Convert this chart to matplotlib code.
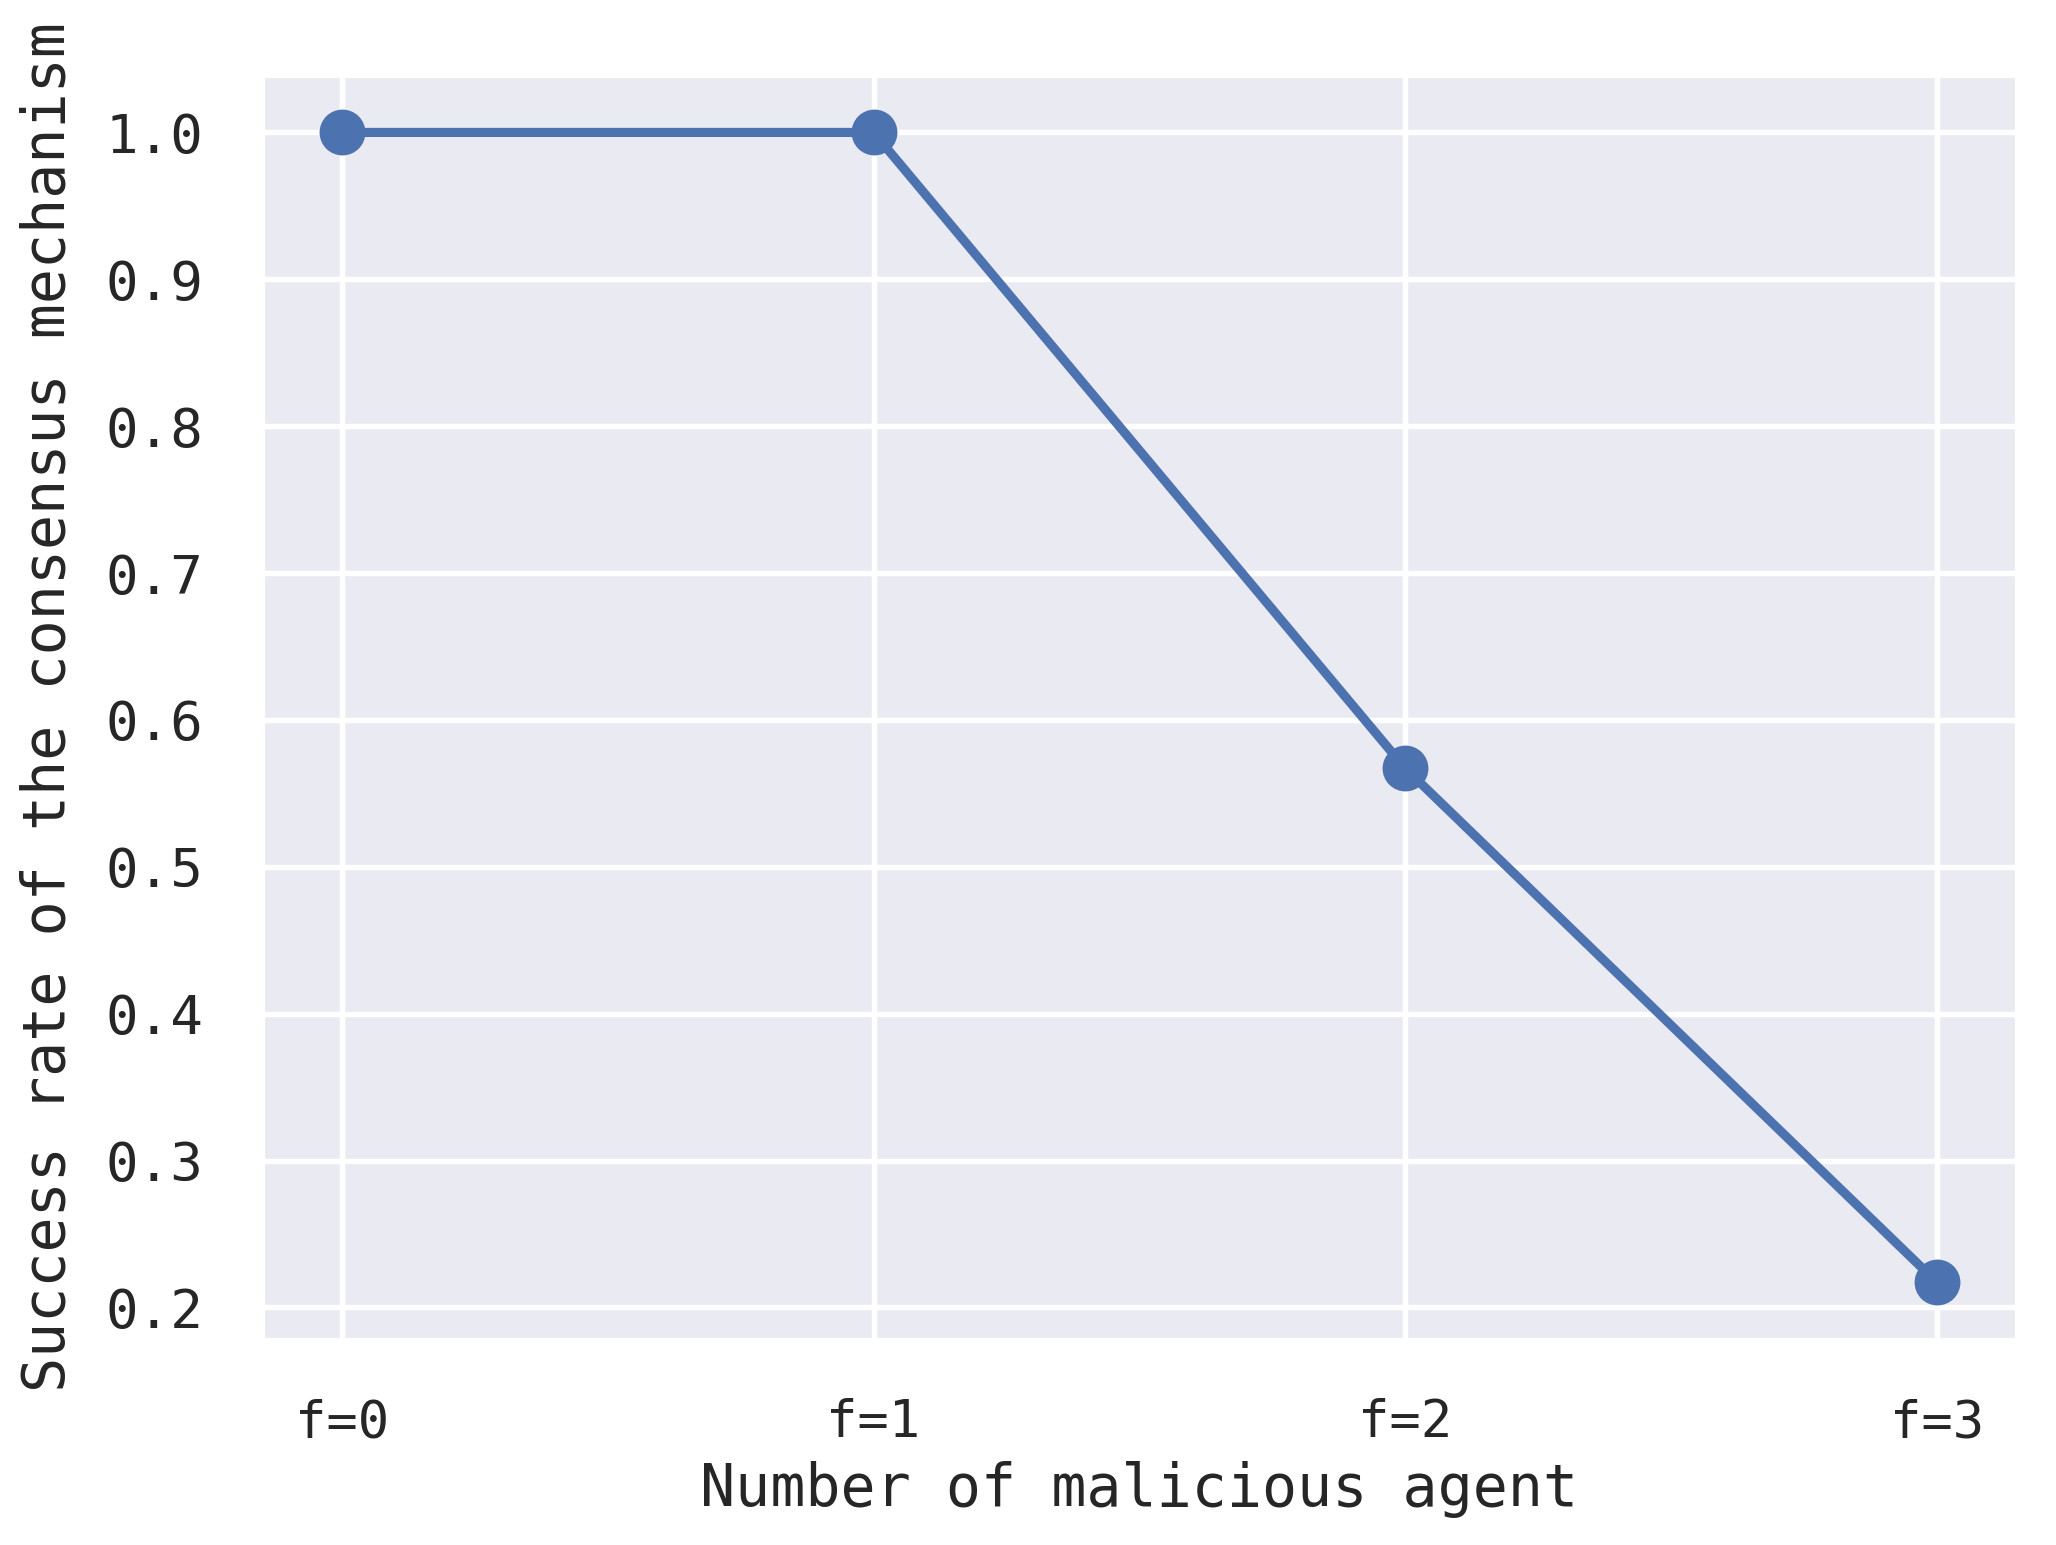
import matplotlib
matplotlib.use("Agg")
import matplotlib.pyplot as plt
import seaborn as sns

categories = ['f=0', 'f=1', 'f=2', 'f=3']
success_rate = [1.0, 1.0, 0.567, 0.217]
yticks = [0.2, 0.3, 0.4, 0.5, 0.6, 0.7, 0.8, 0.9, 1.0]

sns.set_theme(style='darkgrid')
plt.rcParams['font.family'] = ['DejaVu Sans Mono', 'DejaVu Sans']

fig = plt.figure(figsize=(2056 / 300, 1545 / 300), dpi=300)
ax = fig.add_axes([0.1274, 0.1327, 0.8536, 0.8188])

x = list(range(len(categories)))
ax.plot(x, success_rate, color='#4c72b0', linewidth=2.2, marker='o', markersize=10)

ax.set_xticks(x)
ax.set_xticklabels(categories, fontsize=12.5)
ax.set_yticks(yticks)
ax.set_yticklabels([f'{v:.1f}' for v in yticks], fontsize=13)
ax.tick_params(axis='both', pad=8)
ax.grid(color='white', linewidth=1.3)

ax.set_xlabel('Number of malicious agent', fontsize=14, labelpad=3)
ax.set_ylabel('Success rate of the consensus mechanism', fontsize=14, labelpad=7)

fig.savefig('out.png', dpi=300)
